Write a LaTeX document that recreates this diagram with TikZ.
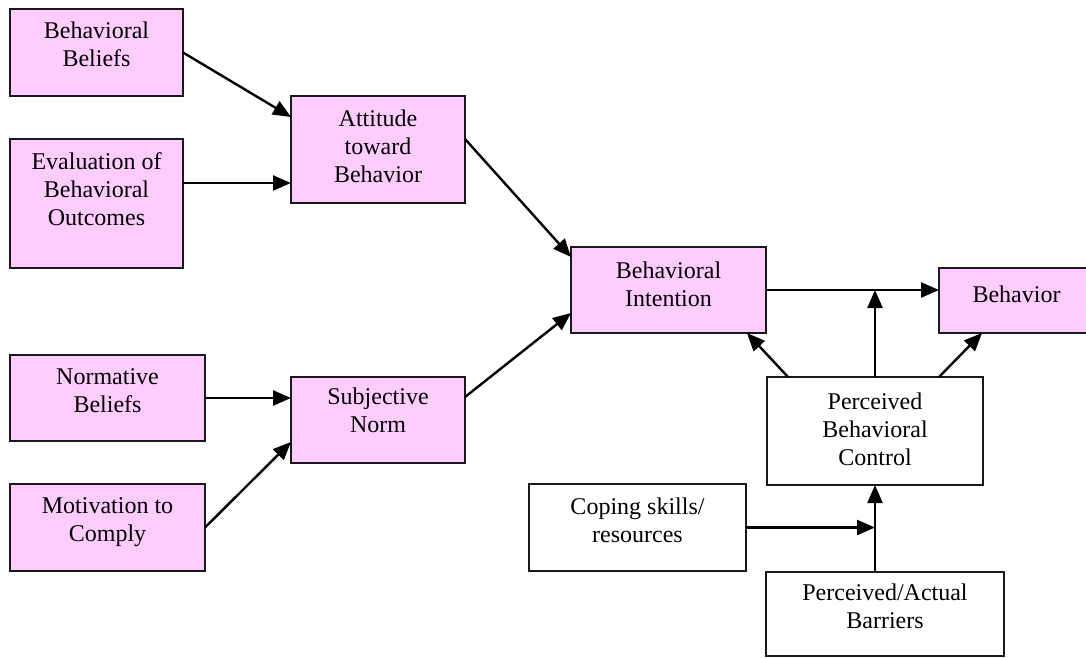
\documentclass[tikz,border=0pt]{standalone}
\usepackage{fontspec}
\setmainfont{Liberation Serif}
\usetikzlibrary{arrows.meta,calc}
\definecolor{boxpink}{RGB}{255,204,255}
\begin{document}
\begin{tikzpicture}[x=1pt,y=-1pt,
  box/.style={draw=black!90, line width=1.8pt, inner sep=0pt, outer sep=0pt,
    anchor=north west, fill=#1},
  box/.default=white,
  lbl/.style={inner sep=0pt, align=center, anchor=north,
    font=\fontsize{24}{28}\selectfont, execute at begin node=\strut},
  arr/.style={line width=2.4pt, -{Triangle[length=18pt,width=15pt]}}]

\fill[white] (0,0) rectangle (1086,657);
\useasboundingbox (0,0) rectangle (1086,657);
\clip (0,0) rectangle (1086,657);

% boxes
\node[box=boxpink, minimum width=173pt, minimum height=87pt]  (bb)   at (10,9)    {};
\node[box=boxpink, minimum width=173pt, minimum height=129pt] (ev)   at (10,139)  {};
\node[box=boxpink, minimum width=174pt, minimum height=107pt] (att)  at (291,96)  {};
\node[box=boxpink, minimum width=195pt, minimum height=86pt]  (bi)   at (571,247) {};
\node[box=boxpink, minimum width=155pt, minimum height=65pt]  (beh)  at (939,268) {};
\node[box=boxpink, minimum width=195pt, minimum height=86pt]  (norm) at (10,355)  {};
\node[box=boxpink, minimum width=174pt, minimum height=86pt]  (sn)   at (291,377) {};
\node[box=boxpink, minimum width=195pt, minimum height=87pt]  (mot)  at (10,484)  {};
\node[box, minimum width=216pt, minimum height=108pt] (pbc)    at (767,377) {};
\node[box, minimum width=217pt, minimum height=87pt]  (coping) at (529,484) {};
\node[box, minimum width=238pt, minimum height=84pt]  (bar)    at (766,572) {};

% labels
\node[lbl] (bbT)   at ([yshift=-13pt]bb.north)   {Behavioral\\Beliefs};
\node[lbl] (evT)   at ([yshift=-13pt]ev.north)   {Evaluation of\\Behavioral\\Outcomes};
\node[lbl] (attT)  at ([yshift=-14pt]att.north)  {Attitude\\toward\\Behavior};
\node[lbl] (biT)   at ([yshift=-14.5pt]bi.north) {Behavioral\\Intention};
\node[lbl] (behT)  at ([yshift=-14.5pt]beh.north) {Behavior};
\node[lbl] (normT) at ([yshift=-13.5pt]norm.north) {Normative\\Beliefs};
\node[lbl] (snT)   at ([yshift=-11pt]sn.north)   {Subjective\\Norm};
\node[lbl] (motT)  at ([yshift=-13.5pt]mot.north) {Motivation to\\Comply};
\node[lbl] (pbcT)  at ([yshift=-16pt]pbc.north)  {Perceived\\Behavioral\\Control};
\node[lbl] (copT)  at ([yshift=-13.5pt]coping.north) {Coping skills/\\resources};
\node[lbl] (barT)  at ([yshift=-11.5pt]bar.north) {Perceived/Actual\\Barriers};

% junction points on the connectors
\coordinate (j1) at (pbc.north |- bi.east);
\coordinate (j2) at (pbc.south |- coping.east);

% connectors
\draw[arr] (bb.east) -- ([yshift=32.5pt]att.west);
\draw[arr] ([yshift=20.5pt]ev.east) -- ([yshift=20.5pt]ev.east -| att.west);
\draw[arr] ([yshift=10.5pt]att.east) -- ([yshift=33pt]bi.west);
\draw[arr] ([yshift=23pt]sn.east) -- ([yshift=-23pt]bi.west);
\draw[arr] (norm.east) -- (norm.east -| sn.west);
\draw[arr] (mot.east) -- ([yshift=-22pt]sn.west);
\draw[arr] (bi.east) -- (bi.east -| beh.west);
\draw[arr] (pbc.north) -- (j1);
\draw[arr] ([xshift=21pt]pbc.north west) -- ([xshift=-19pt]bi.south east);
\draw[arr] ([xshift=-44pt]pbc.north east) -- ([xshift=43pt]beh.south west);
\draw[arr] (pbc.south |- bar.north) -- (pbc.south);
\draw[arr] (coping.east) -- (j2);
\end{tikzpicture}
\end{document}
